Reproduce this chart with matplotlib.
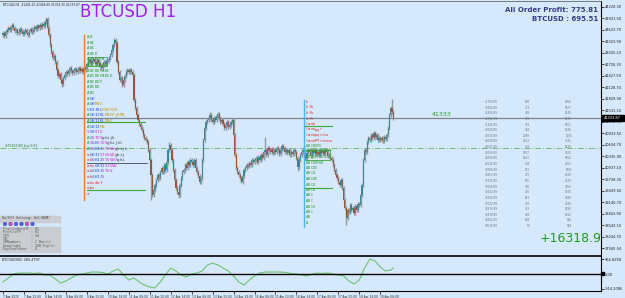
import numpy as np
import matplotlib.pyplot as plt
from matplotlib.patches import Rectangle, Circle

W, H = 625, 298

# hourly closes BTCUSD H1, 7 Apr 06:00 -> 19 Apr 16:00
closes = [
    43540, 43470, 43570, 43620, 43670, 43620, 43700, 43750, 43670, 43600, 43620, 43540, 43570, 43650, 43600, 43520,
    43570, 43620, 43540, 43490, 43600, 43650, 43570, 43620, 43700, 43650, 43730, 43670, 43750, 43700, 43780, 43730,
    43830, 43910, 43670, 43490, 43230, 43050, 42890, 42950, 42790, 42580, 42430, 42480, 42320, 42220, 42370, 42450,
    42530, 42480, 42580, 42630, 42560, 42500, 42580, 42610, 42530, 42580, 42630, 42560, 42610, 42530, 42580, 42660,
    42740, 42790, 42840, 42760, 42820, 42870, 42790, 42740, 42840, 42760, 42690, 42630, 42710, 42790, 42740, 42820,
    42840, 42890, 42970, 43100, 43230, 43360, 43280, 42790, 42530, 42320, 42370, 42190, 42320, 42430, 42530, 42580,
    42530, 42580, 42530, 42450, 41800, 41590, 41410, 41280, 41180, 41100, 41020, 40890, 40810, 40760, 40710, 40500,
    40240, 39850, 39330, 39460, 39590, 39720, 39850, 39770, 39930, 40030, 39930, 40110, 39980, 40190, 40500, 40630,
    40500, 40240, 39980, 39720, 39510, 39410, 39330, 39590, 39770, 39930, 39980, 40110, 40030, 40190, 40110, 40240,
    40190, 40110, 40240, 40030, 39930, 39830, 39670, 39770, 40240, 40760, 41070, 41230, 41280, 41330, 41410, 41280,
    41230, 41330, 41280, 41390, 41440, 41330, 41230, 41280, 41180, 41070, 41150, 41230, 41100, 41150, 41230, 41280,
    40890, 40370, 40030, 39930, 39850, 39770, 39670, 39830, 39980, 40030, 40110, 40090, 40160, 40110, 40240, 40190,
    40240, 40290, 40190, 40320, 40240, 40370, 40290, 40450, 40500, 40370, 40550, 40500, 40450, 40530, 40420, 40500,
    40450, 40550, 40500, 40400, 40500, 40610, 40550, 40450, 40500, 40420, 40500, 40370, 40450, 40400, 40500, 40450,
    40290, 40060, 40240, 40370, 40450, 40500, 40370, 40290, 40420, 40500, 40450, 40340, 40480, 40420, 40500, 40400,
    40450, 40370, 40500, 40420, 40480, 40400, 40500, 40450, 40340, 40370, 40290, 40240, 40110, 39980, 39850, 39770,
    39670, 39590, 39720, 39510, 39200, 38990, 38730, 38940, 38890, 39070, 38940, 38990, 38860, 39050, 38940, 39100,
    39070, 39330, 39590, 40240, 40500, 40450, 40710, 40810, 40760, 40890, 40810, 40940, 40840, 40890, 40760, 40810,
    40760, 40810, 40740, 40840, 40790, 40890, 41070, 41410, 41590, 41490, 41334,
]
first_open = 43500
high_spikes = {33: 43960, 85: 43420, 127: 40700, 158: 41500, 164: 41500, 200: 40840, 297: 41830}
low_spikes = {45: 42150, 113: 39200, 134: 39260, 150: 39630, 182: 39640, 225: 39960, 262: 38550}

# momentum indicator, one reading every 4 bars (+ last bar)
ind_values = [
    -475, -225, 25, 90, 90, 90, 55, 90, -40, -40, -290, -540, -410, -225, -40, 25,
    90, 150, 150, 120, 25, 215, 340, -40, -350, -225, -475, -665, -790, -850, -475, -40,
    400, 215, -40, -160, 25, 90, 215, 590, 715, 590, 400, 215, -100, -475, -665, -350,
    -100, 90, 150, 150, 150, 150, 120, 55, 25, -40, -100, 25, 90, 55, 90, 25,
    -40, -100, -410, -600, -350, 400, 965, 840, 465, 215, 275, 400,
]

x_labels = ["7 Apr 2022", "7 Apr 22:00", "8 Apr 14:00", "9 Apr 06:00", "9 Apr 22:00",
            "10 Apr 14:00", "11 Apr 06:00", "11 Apr 22:00", "12 Apr 14:00", "13 Apr 06:00",
            "13 Apr 22:00", "14 Apr 14:00", "15 Apr 06:00", "15 Apr 22:00", "16 Apr 14:00",
            "17 Apr 06:00", "17 Apr 22:00", "18 Apr 14:00", "19 Apr 06:00"]
price_ticks = [44220.3, 43921.5, 43622.7, 43323.9, 43025.1, 42726.3, 42427.5, 42128.7,
               41829.9, 41531.1, 41232.3, 40933.5, 40634.7, 40335.9, 40037.1, 39738.3,
               39439.5, 39140.7, 38841.9, 38543.1, 38244.3, 37945.5]
ind_ticks = [966.8258, 0.0, -914.2086]
ind_tick_labels = ["966.8258", "0.00", "-914.2086"]

# market profile letters
left_rows = ["AB", "ABC", "ABC", "ABCD", "ABCDEFA", "ABCDEFAB", "ABCDEFABC", "ABCDEFABCD", "ABCDEF",
             "ABCDE", "ABC", "AGH", "AGHMNO", "GHIJKLMNOPQR", "AGHIJKLMNOPQRMN", "AGHIJKLMNO", "AGHIJMN",
             "SGHSTU", "AGSTUVghijk", "ASGHSTUVghijkl", "ASGHIJSTUVWghijk", "aGHIJSTUVWXghij",
             "abGHIJSTUVWXghi", "abcGHIJSTUVW", "abGHIJSTUV", "abGHIJS", "abcdef", "abc", "a"]
right_rows = ["b", "bfb", "bfb", "dfl", "lmob", "lmnopqr", "lmnopqrstu", "lmnopqrstuvw",
              "ABCDEFG", "AABBCCDDEEFF", "ABCDEFGHIJ", "ABCDEFGH", "ABCDE", "ABCD", "ABCDE",
              "ABCD", "ABCD", "ABC", "ABC", "ABCD", "ABC", "AB", "A"]

tbl_price = [41750.89, 41604.89, 41458.89, 41312.89, 41166.89, 41020.89, 40874.89, 40728.89,
             40582.89, 40436.89, 40290.89, 40144.89, 39998.89, 39852.89, 39706.89, 39560.89,
             39414.89, 39268.89, 39122.89, 38976.89, 38830.89, 38684.89, 38538.89]
tbl_vol = [186, 313, 389, 359, 339, 483, 2189, 2313, 334, 2957, 1443, 338, 101, 475, 575,
           330, 455, 543, 470, 453, 389, 184, 60]
tbl_cnt = [1859, 1837, 1345, 1375, 1451, 1266, 1705, 7325, 1440, 7632, 5654, 2855, 1855,
           2538, 2670, 2850, 1970, 2386, 2740, 1598, 1832, 546, 148]

info_lines = ["ProfileDataTF : H1", "ProfileTF     : H1", "TPO           : 94", "IB            :",
              "IBNumbers     : 2 Bar(s)", "Downlight     : 100 Pip(s)", "DayStartHour  : 0"]
dot_colors = ["#4a63e6", "#e04cc8", "#4a63e6", "#4a63e6", "#e04cc8", "#4a63e6"]

BG = "#d6e8fb"
WICK = 50

fig = plt.figure(figsize=(W / 100, H / 100), dpi=100, facecolor=BG)


def fx(px):
    return px / W


def fy(py):
    return 1 - py / H


ax = fig.add_axes([0, fy(256), fx(601), 255 / H], facecolor=BG)
ind = fig.add_axes([0, fy(291), fx(601), 35 / H], facecolor=BG)

# candles
c = np.array(closes, float)
o = np.concatenate([[first_open], c[:-1]])
idx = np.arange(len(c))
hi = np.maximum(o, c) + WICK
lo = np.minimum(o, c) - WICK
for k, v in high_spikes.items():
    hi[k] = v
for k, v in low_spikes.items():
    lo[k] = v
up = c >= o
ax.vlines(idx, lo, hi, color="#8d99a5", lw=1.0, zorder=2)
ax.bar(idx[up], (c - o)[up], bottom=o[up], width=0.9, color="#3f8a98", lw=0, zorder=3)
ax.bar(idx[~up], (c - o)[~up], bottom=o[~up], width=0.9, color="#93593a", lw=0, zorder=3)

ax.axhline(closes[-1], color="#7d848c", lw=0.9, zorder=1)
ax.axhline(40554, color="#6cbf6c", lw=0.7, ls=(0, (6, 2, 1, 2)), zorder=1)

ax.set_xlim(-2.3, 456.5)
ax.set_ylim(37746, 44376)
ax.set_xticks([])
ax.yaxis.tick_right()
ax.set_yticks(price_ticks)
ax.set_yticklabels(["%.2f" % v for v in price_ticks])
ax.tick_params(axis="y", length=2, width=0.5, labelsize=2.6, pad=1, labelcolor="#222")
for s in ["left", "bottom"]:
    ax.spines[s].set_visible(False)
ax.spines["top"].set_color("#666")
ax.spines["top"].set_linewidth(0.6)
ax.spines["right"].set_linewidth(0.8)

# indicator
ind_x = np.r_[np.arange(0, 297, 4), 298]
ind.plot(ind_x, ind_values, color="#6fc36f", lw=0.8)
ind.axhline(0, color="black", lw=1)
ind.set_xlim(-2.3, 456.5)
ind.set_ylim(-1040, 1155)
ind.yaxis.tick_right()
ind.set_yticks(ind_ticks)
ind.set_yticklabels(ind_tick_labels)
ind.set_xticks(np.arange(0, 16 * len(x_labels), 16))
ind.set_xticklabels(x_labels)
plt.setp(ind.get_xticklabels(), ha="left")
ind.tick_params(length=2, width=0.5, labelsize=2.1, pad=1, labelcolor="#222")
ind.tick_params(axis="y", labelsize=2.6)
ind.spines["left"].set_visible(False)
ind.spines["top"].set_linewidth(1.2)
ind.spines["bottom"].set_linewidth(0.8)
ind.spines["right"].set_linewidth(0.8)

# overlay in pixel coordinates
ov = fig.add_axes([0, 0, 1, 1])
ov.set_xlim(0, W)
ov.set_ylim(H, 0)
ov.axis("off")
ov.patch.set_alpha(0)

mono = "DejaVu Sans Mono"
narrow = ["Liberation Sans Narrow", "DejaVu Sans"]

ov.text(3, 5, "BTCUSD,H1  41445.10 41446.60 41326.30 41333.87", fontsize=2.1, color="#222", va="center")
ov.text(80, 12, "BTCUSD H1", fontsize=12, color="#a020f0", va="center")
ov.text(598, 10, "All Order Profit: 775.81", fontsize=5, family=narrow, weight="bold",
        color="#3a3a8c", ha="right", va="center")
ov.text(598, 19, "BTCUSD : 695.51", fontsize=5, family=narrow, weight="bold",
        color="#3a3a8c", ha="right", va="center")
ov.text(432, 114, "41333", fontsize=4.5, color="#2a9a2a", va="center")
ov.text(602, 238, "+16318.9", fontsize=9, color="#1f9a1f", ha="right", va="center")
ov.text(5, 146, "#75263180 buy 0.01", fontsize=2.2, color="#2a7a2a", va="center")
ov.text(2, 260, "BTCUSD(60) 266.4797", fontsize=2.4, color="#222", va="center")

# current price tag
ov.add_patch(Rectangle((602, 115), 22, 6, color="black"))
ov.text(603.5, 118, "41333.87", fontsize=2.6, color="white", va="center")
ov.add_patch(Rectangle((601, 271.5), 3, 3, color="black"))


def left_color(ch):
    if ch in "ABCDEF":
        return "#2a9a2a"
    if ch in "GHIJKL":
        return "#3050e0"
    if ch in "MNOPQR":
        return "#c0a020"
    if ch in "STUVWX":
        return "#d030d0"
    if ch in "abcdef":
        return "#e03030"
    return "#404050"


CW = 2.5  # char width px for mono 3pt
ov.plot([84, 84], [35, 200], color="#f07a3a", lw=1)
for k, row in enumerate(left_rows):
    for j, ch in enumerate(row):
        ov.text(87 + j * CW, 37 + 5.6 * k, ch, fontsize=3, family=mono,
                color=left_color(ch), va="center")

ov.plot([304, 304], [100, 227], color="#4ab4f0", lw=1)
for k, row in enumerate(right_rows):
    for j, ch in enumerate(row):
        ov.text(306 + j * 2.17, 102 + 5.5 * k, ch, fontsize=2.6, family=mono,
                color="#e03030" if ch.islower() else "#2a9a2a", va="center")

for y in [122, 190]:
    ov.plot([87, 145], [y, y], color="#3aa83a", lw=0.8)
ov.plot([87, 147], [163, 163], color="#50607a", lw=0.7)
for y in [126, 188]:
    ov.plot([305, 332], [y, y], color="#3aa83a", lw=0.8)
ov.add_patch(Rectangle((88, 57), 19, 9, fill=False, ec="#3aa83a", lw=0.6))
ov.add_patch(Rectangle((305, 150), 25, 10, fill=False, ec="#3aa83a", lw=0.6))

for k in range(len(tbl_price)):
    y = 102 + 5.64 * k
    ov.text(485, y, "%.2f" % tbl_price[k], fontsize=2.0, color="#6a7680", va="center")
    ov.text(530, y, str(tbl_vol[k]), fontsize=2.0, color="#6a7680", va="center", ha="right")
    ov.text(572, y, str(tbl_cnt[k]), fontsize=2.0, color="#6a7680", va="center", ha="right")

# settings panel
ov.add_patch(Rectangle((0, 215.5), 60, 6, color="#c9cdd2"))
ov.text(2, 218.5, "On/Off Setting: Del(NUM)", fontsize=2.4, family=mono, color="#444", va="center")
for k, col in enumerate(dot_colors):
    ov.add_patch(Circle((5 + 5.5 * k, 224), 1.8, fc=col, ec="#3a3a8c", lw=0.3))
ov.add_patch(Rectangle((0, 226.5), 60, 25, color="#c9cdd2"))
for k, line in enumerate(info_lines):
    ov.text(3, 229 + 3.35 * k, line, fontsize=2.3, family=mono, color="#555", va="center")

fig.savefig("out.png", dpi=100, facecolor=BG)
